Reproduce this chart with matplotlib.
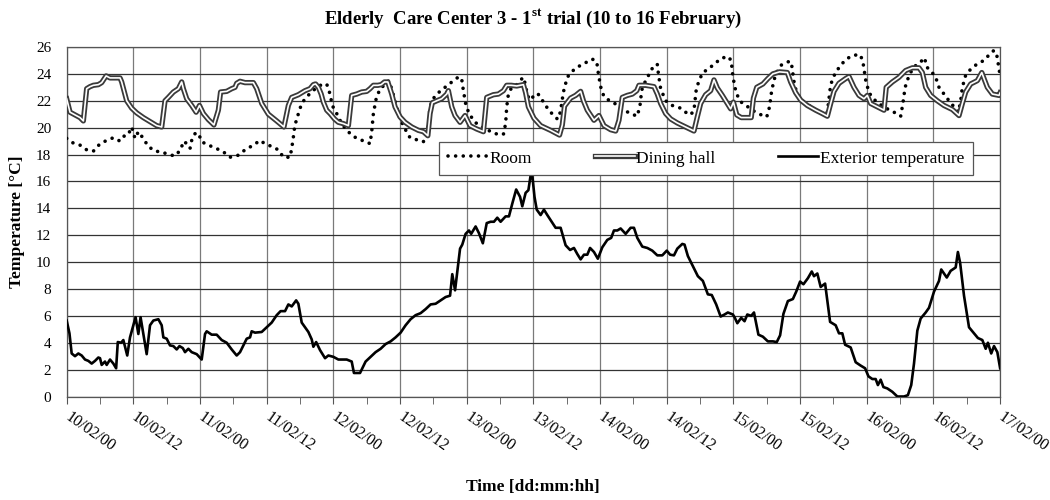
import matplotlib
matplotlib.use("Agg")
import matplotlib.pyplot as plt
import matplotlib.patheffects as pe

plt.rcParams['font.family'] = ['Liberation Serif', 'DejaVu Serif']
plt.rcParams['mathtext.fontset'] = 'custom'
plt.rcParams['mathtext.bf'] = 'Liberation Serif:bold'
plt.rcParams['mathtext.rm'] = 'Liberation Serif'

# hours from 10/02 00:00
room_h = [0, 1.2, 2.4, 3.6, 4.8, 6, 7.2, 8.4, 9.6, 10.5, 11.1, 11.7, 12.3, 12.9, 13.7, 14.7,
          15.9, 17.1, 18.3, 19.5, 20.4, 21.1, 21.6, 22.2, 22.5, 23.1, 23.7, 24.3, 25.5, 26.7,
          28.2, 29.4, 30.9, 32.1, 33.6, 34.8, 35.7, 36.9, 38.1, 39.0, 40.2, 40.5, 40.8, 41.1,
          41.4, 41.7, 42.3, 43.2, 44.1, 45.0, 45.9, 46.8, 47.4, 47.8, 48.6, 49.5, 50.4, 51.6,
          52.8, 54.0, 54.6, 54.9, 55.2, 55.7, 56.4, 57.3, 58.0, 58.6, 59.2, 60.0, 60.9, 61.8,
          63.0, 64.2, 65.0, 65.3, 65.7, 66.6, 67.5, 68.7, 69.8, 70.6, 71.1, 71.4, 71.8, 72.4,
          73.5, 74.7, 75.9, 77.1, 78.6, 79.0, 79.2, 79.5, 80.1, 81.0, 81.6, 82.2, 82.6, 82.9,
          83.5, 84.1, 84.7, 85.3, 85.9, 87.1, 88.3, 88.6, 89.0, 89.4, 90.1, 91.0, 91.9, 92.8,
          93.7, 94.6, 95.4, 95.7, 96.1, 96.7, 97.9, 99.1, 100.3, 101.5, 102.7, 103.2, 103.5,
          104.2, 105.0, 105.7, 106.3, 106.5, 106.9, 107.8, 109.0, 110.5, 111.7, 112.3, 112.9,
          113.3, 113.8, 114.5, 115.6, 116.6, 117.8, 119.0, 119.6, 119.9, 120.5, 121.4, 122.6,
          123.8, 125.0, 126.0, 126.5, 126.9, 127.6, 128.6, 129.8, 130.4, 130.7, 131.0, 131.5,
          132.4, 133.6, 134.8, 136.0, 136.8, 137.1, 137.5, 138.3, 139.4, 140.5, 141.7, 142.9,
          143.4, 143.8, 144.4, 145.3, 146.5, 147.7, 148.9, 150.1, 150.5, 150.9, 151.5, 152.2,
          153.1, 154.0, 154.4, 154.8, 155.5, 156.4, 157.0, 157.9, 158.8, 159.7, 160.5, 160.9,
          161.2, 161.8, 162.7, 163.9, 165.1, 166.2, 166.9, 167.5, 167.8, 168]
room_t = [19.2, 18.85, 18.7, 18.35, 18.25, 18.8, 19.05, 19.25, 19.0, 19.45, 19.5, 20.05, 19.2,
          19.7, 19.25, 18.6, 18.25, 18.2, 18.0, 17.9, 18.3, 19.0, 18.8, 18.45, 19.05, 19.55,
          19.6, 18.95, 18.7, 18.5, 18.2, 17.8, 17.95, 18.35, 18.7, 19.05, 18.8, 18.6, 18.35,
          17.8, 17.8, 18.45, 19.3, 20.3, 20.55, 21.05, 21.8, 22.3, 22.65, 23.0, 23.2, 23.25,
          22.5, 21.65, 21.05, 20.3, 19.8, 19.35, 19.1, 18.95, 18.8, 19.7, 21.05, 22.15, 22.9,
          23.2, 23.5, 22.75, 21.8, 20.65, 19.9, 19.25, 19.1, 18.95, 19.9, 21.15, 22.0, 22.5,
          22.8, 23.2, 23.55, 23.8, 23.6, 22.75, 21.8, 21.05, 20.4, 20.05, 19.8, 19.55, 19.5,
          20.3, 21.55, 22.5, 23.0, 23.2, 23.5, 23.75, 23.15, 22.4, 22.05, 22.4, 22.55, 22.3,
          21.8, 21.15, 20.65, 20.7, 21.55, 22.65, 23.75, 24.2, 24.5, 24.7, 24.9, 25.1, 24.9,
          24.0, 23.05, 22.3, 21.95, 21.7, 21.3, 21.05, 20.85, 21.7, 22.8, 23.5, 24.1, 24.65,
          24.7, 24.0, 22.9, 22.0, 21.65, 21.45, 21.05, 20.95, 21.3, 22.8, 23.5, 24.1, 24.4,
          24.75, 25.15, 25.3, 25.0, 23.8, 22.55, 21.9, 21.55, 21.2, 20.95, 20.8, 21.55, 22.8,
          24.0, 24.65, 24.9, 24.9, 24.0, 23.15, 22.5, 22.0, 21.65, 21.3, 21.05, 20.9, 21.8,
          23.2, 24.05, 24.7, 25.15, 25.4, 25.4, 24.65, 23.55, 22.6, 22.1, 21.7, 21.4, 21.15,
          20.85, 21.8, 23.0, 23.75, 24.35, 24.75, 25.0, 25.2, 24.5, 24.25, 23.75, 23.0, 22.5,
          22.0, 21.55, 21.15, 22.0, 23.0, 23.9, 24.35, 24.75, 25.0, 25.5, 25.75, 25.25, 24.3,
          24.0]

dining_h = [0, 0.6, 1.5, 2.4, 3.0, 3.6, 4.2, 4.8, 5.7, 6.3, 7.1, 7.8, 9.6, 9.9, 10.8, 11.7,
            12.6, 13.8, 15.0, 16.2, 17.1, 17.7, 18.3, 19.2, 20.1, 20.7, 21.0, 21.6, 22.5, 23.3,
            23.9, 24.6, 25.5, 26.5, 27.3, 27.7, 28.8, 29.7, 30.3, 30.6, 31.2, 32.1, 33.6, 34.2,
            35.1, 36.3, 37.8, 39.1, 39.9, 40.5, 41.7, 42.9, 43.8, 44.4, 44.8, 45.3, 45.8, 46.2,
            46.8, 47.4, 48.2, 48.9, 49.8, 50.7, 51.3, 52.2, 53.1, 54.0, 54.6, 55.2, 56.0, 56.6,
            57.2, 57.8, 58.5, 59.1, 60.0, 60.9, 62.1, 63.3, 64.2, 65.0, 65.4, 65.8, 66.6, 67.5,
            68.4, 68.7, 69.3, 69.9, 70.8, 71.7, 72.6, 73.8, 75.0, 75.6, 76.8, 77.7, 78.6, 79.2,
            80.0, 81.0, 82.2, 82.6, 83.1, 84.1, 85.3, 87.1, 88.7, 89.2, 89.6, 90.7, 91.6, 92.5,
            93.0, 93.7, 94.9, 95.8, 96.7, 97.9, 98.8, 99.4, 100.0, 100.9, 101.8, 102.6, 103.0,
            104.2, 105.7, 106.3, 106.9, 107.8, 108.7, 109.9, 111.4, 112.9, 113.5, 114.1, 115.0,
            115.9, 116.5, 117.1, 118.0, 118.9, 119.5, 120.0, 120.6, 121.4, 123.2, 123.6, 124.2,
            125.3, 126.2, 127.1, 128.3, 129.7, 130.3, 131.2, 132.1, 133.3, 134.8, 136.0, 136.9,
            137.5, 138.1, 139.0, 140.2, 140.8, 141.7, 142.6, 143.5, 144.1, 144.7, 145.9, 147.1,
            147.5, 148.6, 149.8, 151.0, 152.2, 153.4, 154.0, 154.6, 155.5, 156.7, 157.9, 159.4,
            160.6, 161.2, 161.8, 162.7, 163.9, 164.7, 165.1, 165.7, 166.6, 167.8, 168]
dining_t = [22.15, 21.15, 20.95, 20.75, 20.5, 22.9, 23.05, 23.15, 23.2, 23.35, 23.85, 23.7,
            23.7, 23.4, 22.0, 21.45, 21.1, 20.75, 20.45, 20.15, 20.05, 22.0, 22.25, 22.65, 22.9,
            23.4, 22.9, 22.15, 21.65, 21.15, 21.65, 21.05, 20.6, 20.2, 21.3, 22.65, 22.7, 22.9,
            23.0, 23.3, 23.45, 23.35, 23.35, 22.9, 21.8, 21.0, 20.5, 20.05, 21.65, 22.25, 22.45,
            22.75, 22.9, 23.2, 23.25, 23.0, 22.5, 21.9, 21.3, 21.05, 20.65, 20.4, 20.3, 20.15,
            22.4, 22.5, 22.65, 22.7, 22.9, 23.15, 23.15, 23.2, 23.4, 23.4, 22.5, 21.55, 20.8,
            20.4, 20.05, 19.8, 19.7, 19.4, 21.05, 21.85, 22.0, 22.15, 22.5, 22.75, 21.55, 20.9,
            20.4, 20.9, 20.15, 19.9, 19.7, 22.25, 22.45, 22.5, 22.75, 23.15, 23.15, 23.1, 23.2,
            22.6, 21.55, 20.7, 20.15, 19.8, 19.45, 20.2, 21.6, 22.2, 22.4, 22.7, 22.0, 21.3,
            20.55, 20.9, 20.15, 19.85, 19.75, 20.55, 22.25, 22.4, 22.5, 22.75, 23.15, 23.15,
            23.05, 22.5, 21.8, 21.05, 20.65, 20.35, 20.05, 19.75, 20.8, 21.8, 22.45, 22.75,
            23.55, 22.95, 22.4, 21.8, 21.4, 21.9, 20.95, 20.75, 20.75, 22.2, 23.0, 23.25, 23.65,
            24.0, 24.15, 24.1, 23.4, 22.6, 22.05, 21.65, 21.3, 21.05, 20.85, 21.8, 22.7, 23.3,
            23.65, 23.8, 23.0, 22.4, 22.15, 22.4, 21.8, 21.55, 21.3, 23.0, 23.4, 23.75, 24.25,
            24.45, 24.45, 24.1, 23.0, 22.4, 22.0, 21.65, 21.35, 20.9, 21.8, 22.65, 23.25, 23.5,
            24.1, 23.65, 23.0, 22.5, 22.4, 22.6]

ext_h = [0, 0.5, 0.9, 1.5, 2.1, 2.7, 3.3, 3.9, 4.5, 5.1, 5.7, 6.0, 6.3, 6.9, 7.2, 7.8, 8.4, 8.9,
         9.2, 9.8, 10.2, 10.9, 11.4, 12.0, 12.4, 12.9, 13.3, 13.8, 14.4, 15.0, 15.6, 16.5, 17.1,
         17.4, 18.0, 18.6, 19.2, 19.8, 20.3, 20.9, 21.3, 21.9, 22.5, 23.4, 24.3, 24.9, 25.2,
         26.1, 27.0, 27.9, 28.8, 29.7, 30.6, 31.2, 31.8, 32.4, 33.0, 33.3, 33.9, 35.1, 36.0,
         36.9, 37.8, 38.5, 39.3, 39.9, 40.5, 41.3, 41.7, 42.3, 42.9, 43.5, 44.1, 44.4, 44.9,
         45.6, 46.5, 47.1, 48.0, 48.9, 50.4, 51.3, 51.7, 52.8, 53.8, 54.7, 55.6, 56.5, 57.4,
         58.3, 59.2, 60.1, 61.0, 61.9, 62.8, 63.7, 64.6, 65.5, 66.4, 67.3, 68.2, 69.0, 69.4,
         69.9, 70.3, 70.8, 71.2, 71.8, 72.4, 72.8, 73.6, 74.2, 74.9, 75.6, 76.3, 76.9, 77.5,
         78.1, 79.0, 79.6, 80.2, 80.9, 81.6, 82.0, 82.6, 83.1, 83.5, 83.8, 84.2, 84.6, 85.3,
         85.9, 86.5, 87.2, 88.0, 88.9, 89.8, 90.6, 91.3, 91.9, 92.5, 93.1, 93.7, 94.2, 94.9,
         95.6, 96.4, 97.3, 98.0, 98.5, 99.1, 99.7, 100.6, 101.5, 102.1, 102.7, 103.6, 104.5,
         105.4, 106.3, 107.2, 108.0, 108.6, 109.3, 109.9, 110.8, 111.2, 111.8, 112.7, 113.6,
         114.5, 115.4, 116.1, 116.9, 117.7, 118.4, 119.0, 119.9, 120.2, 120.7, 121.4, 122.0,
         122.5, 123.2, 123.7, 124.5, 125.3, 126.2, 127.1, 127.8, 128.4, 129.0, 129.8, 130.7,
         131.3, 132.0, 132.6, 133.4, 134.1, 134.5, 135.1, 135.7, 136.5, 137.4, 138.4, 139.0,
         139.6, 140.1, 141.1, 142.0, 142.9, 143.7, 144.3, 145.0, 145.6, 146.0, 146.5, 147.0,
         147.7, 148.6, 149.5, 150.7, 151.4, 152.0, 152.5, 153.1, 153.7, 154.6, 155.2, 156.1,
         157.0, 157.4, 158.4, 159.1, 160.0, 160.4, 160.8, 161.5, 162.4, 163.3, 164.0, 164.8,
         165.4, 165.8, 166.4, 166.9, 167.5, 168.0]
ext_t = [5.65, 4.7, 3.2, 3.0, 3.2, 3.05, 2.75, 2.65, 2.45, 2.65, 2.9, 2.85, 2.35, 2.6, 2.35,
         2.75, 2.45, 2.1, 4.05, 4.0, 4.2, 3.05, 4.4, 5.3, 5.9, 4.65, 5.9, 4.65, 3.15, 5.3, 5.65,
         5.75, 5.3, 4.4, 4.3, 3.8, 3.75, 3.5, 3.75, 3.6, 3.3, 3.55, 3.3, 3.15, 2.75, 4.65, 4.85,
         4.6, 4.6, 4.2, 4.0, 3.5, 3.05, 3.3, 3.8, 4.3, 4.4, 4.85, 4.75, 4.8, 5.15, 5.5, 6.05,
         6.35, 6.35, 6.85, 6.7, 7.15, 6.9, 5.5, 5.15, 4.8, 4.25, 3.7, 4.05, 3.45, 2.85, 3.05,
         2.95, 2.75, 2.75, 2.6, 1.75, 1.75, 2.6, 2.95, 3.3, 3.55, 3.9, 4.1, 4.4, 4.75, 5.3, 5.75,
         6.05, 6.2, 6.5, 6.85, 6.9, 7.15, 7.4, 7.5, 9.1, 7.9, 9.25, 11.0, 11.3, 12.1, 12.35,
         12.1, 12.65, 12.15, 11.4, 12.9, 13.0, 13.0, 13.3, 13.0, 13.4, 13.4, 14.35, 15.4, 14.85,
         14.15, 15.15, 15.35, 16.45, 16.45, 14.85, 13.9, 13.5, 13.9, 13.5, 13.05, 12.55, 12.55,
         11.25, 10.9, 11.05, 10.6, 10.2, 10.55, 10.55, 11.05, 10.75, 10.25, 11.1, 11.65, 11.8,
         12.35, 12.35, 12.5, 12.1, 12.55, 12.55, 11.8, 11.15, 11.05, 10.85, 10.5, 10.5, 10.85,
         10.55, 10.5, 11.0, 11.35, 11.3, 10.45, 9.7, 8.95, 8.6, 7.6, 7.55, 6.85, 5.95, 6.1,
         6.25, 6.1, 5.9, 5.45, 5.85, 5.6, 6.1, 6.0, 6.25, 4.6, 4.45, 4.1, 4.1, 4.05, 4.55, 6.15,
         7.1, 7.25, 7.8, 8.55, 8.35, 8.8, 9.3, 8.95, 9.15, 8.15, 8.4, 5.55, 5.3, 4.7, 4.7, 3.85,
         3.65, 2.55, 2.3, 2.1, 1.5, 1.3, 1.3, 0.85, 1.25, 0.7, 0.6, 0.35, 0.0, 0.0, 0.1, 0.85,
         2.45, 4.9, 5.8, 6.25, 6.6, 7.8, 8.6, 9.45, 8.85, 9.35, 9.6, 10.75, 9.95, 7.5, 5.15,
         4.7, 4.35, 4.2, 3.55, 4.0, 3.2, 3.75, 3.3, 2.1]

tick_labels = ["10/02/00", "10/02/12", "11/02/00", "11/02/12", "12/02/00", "12/02/12",
               "13/02/00", "13/02/12", "14/02/00", "14/02/12", "15/02/00", "15/02/12",
               "16/02/00", "16/02/12", "17/02/00"]

fig = plt.figure(figsize=(10.5, 5), dpi=100)
ax = fig.add_axes([0.0635, 0.207, 0.889, 0.699])

ax.plot(room_h, room_t, color='black', lw=2.6, linestyle=(0, (0.01, 2.1)),
        dash_capstyle='round', label='Room', zorder=3)
ax.plot(dining_h, dining_t, color='white', lw=1.2, label='Dining hall', zorder=4,
        path_effects=[pe.Stroke(linewidth=3.8, foreground='#3a3a3a'), pe.Normal()])
ax.plot(ext_h, ext_t, color='black', lw=1.9, label='Exterior temperature', zorder=5)

ax.set_xlim(0, 168)
ax.set_ylim(0, 26)
ax.set_yticks(range(0, 27, 2))
ax.set_xticks(range(0, 169, 12))
ax.set_xticks(range(6, 169, 12), minor=True)
ax.set_xticklabels(tick_labels, rotation=-35, rotation_mode='anchor', ha='left', va='center')
ax.tick_params(axis='x', which='both', direction='out', length=5, labelsize=11.5, pad=9,
               color='#555555')
ax.tick_params(axis='y', length=0, labelsize=11, pad=11)
ax.grid(axis='y', color='#333333', lw=0.9)
ax.grid(axis='x', color='#7a7a7a', lw=0.9)
ax.set_axisbelow(True)
for s in ax.spines.values():
    s.set_color('#555555')
    s.set_linewidth(0.9)

leg = ax.legend(loc='center', ncol=3, bbox_to_anchor=(0.399, 0.6395, 0.572, 0.083),
                mode='expand', borderaxespad=0, fontsize=12.5, frameon=True, fancybox=False,
                handlelength=2.3, handletextpad=0.1, columnspacing=2.0, borderpad=0.5)
leg.get_frame().set_edgecolor('#555555')
leg.get_frame().set_linewidth(0.9)
leg.get_frame().set_alpha(1)

fig.text(0.5076, 0.962, r"Elderly  Care Center 3 - 1$^{\mathbf{st}}$ trial (10 to 16 February)",
         ha='center', va='center', fontsize=13.5, fontweight='bold')
fig.text(0.5076, 0.026, "Time [dd:mm:hh]", ha='center', va='center', fontsize=12.5,
         fontweight='bold')
fig.text(0.016, 0.556, "Temperature [°C]", ha='center', va='center', rotation=90,
         fontsize=12.5, fontweight='bold')

fig.savefig("out.png", dpi=100)
